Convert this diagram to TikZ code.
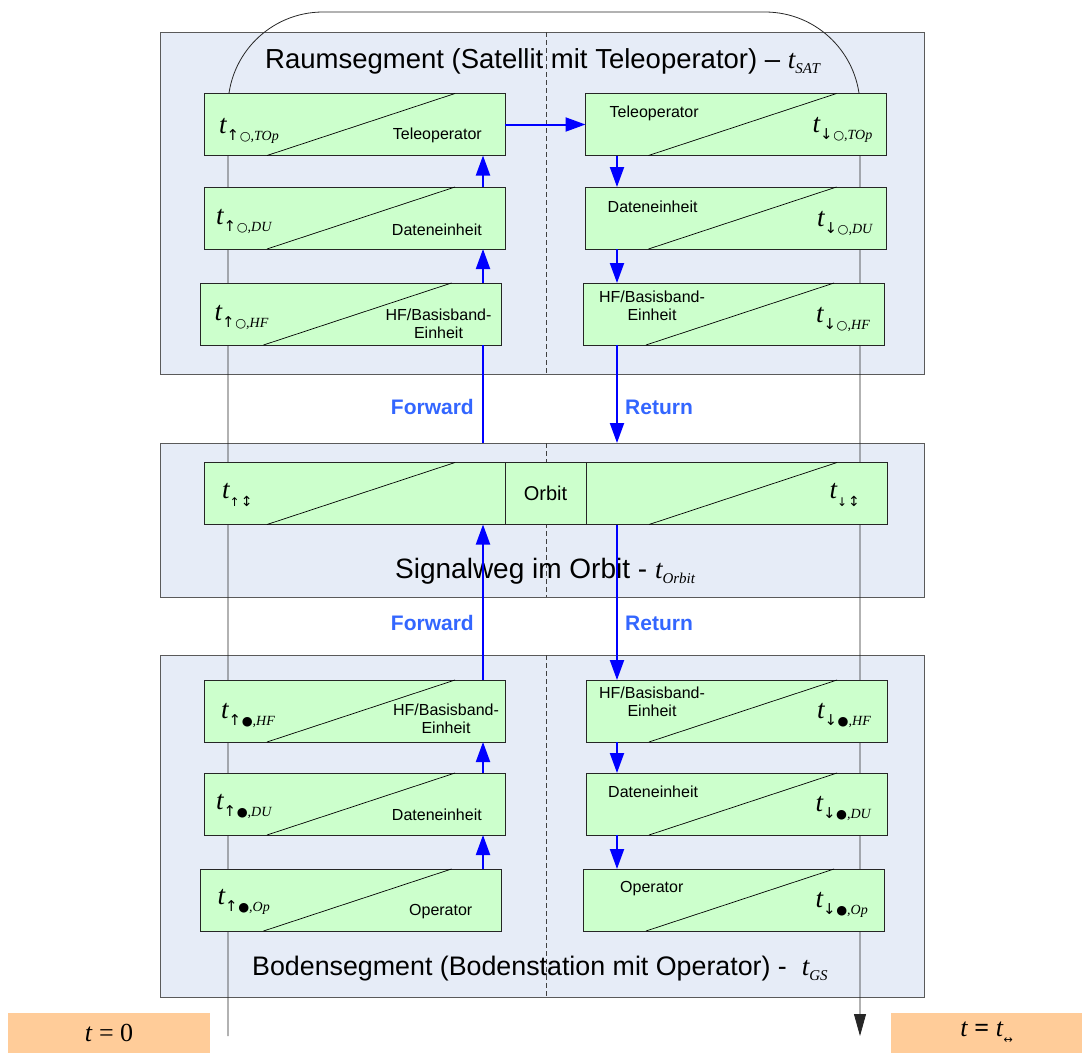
\documentclass[tikz,border=0pt]{standalone}
\usepackage{fontspec}
\setmainfont{Liberation Sans}
\newfontfamily\tms{Liberation Serif}
\newfontfamily\djv{DejaVu Sans}
\usetikzlibrary{arrows.meta}

\definecolor{panelfill}{HTML}{E6ECF7}
\definecolor{panelline}{HTML}{5A5A5A}
\definecolor{unitfill}{HTML}{CCFFCC}
\definecolor{clockfill}{HTML}{FFCC99}
\definecolor{flowblue}{HTML}{0000FF}
\definecolor{labelblue}{HTML}{3366FF}

\newcommand{\setfs}[1]{\fontsize{#1}{#1}\selectfont}
% delay symbol: italic t with direction arrow, location mark and unit index
\newcommand{\tdel}[3]{{\tms\itshape\setfs{27}t}\raisebox{-7pt}{\djv\setfs{15}#1\kern0.5pt\setfs{12.5}#2\tms\itshape\setfs{14}#3}}
\newcommand{\tdelo}[2]{{\tms\itshape\setfs{27}t}\raisebox{-8pt}{\djv\setfs{12}#1\kern1pt\setfs{14}#2}}
\newcommand{\tseg}[1]{{\tms\itshape\setfs{27}t}\raisebox{-5pt}{\tms\itshape\setfs{15}#1}}
\newcommand{\twoline}[2]{\begin{tabular}[t]{@{}c@{}}#1\\#2\end{tabular}}

\begin{document}
\begin{tikzpicture}[x=1pt,y=-1pt,
  panel/.style={draw=panelline, fill=panelfill, line width=0.8pt, inner sep=0, outer sep=0,
                minimum width=764},
  unit/.style={draw=black!85, fill=unitfill, line width=0.8pt, inner sep=0, outer sep=0,
               minimum width=301, minimum height=62},
  slash/.style={draw=black, line width=0.7pt},
  flow/.style={draw=flowblue, line width=2pt},
  flowarr/.style={flow, -{Triangle[length=20pt,width=14pt]}},
  timeline/.style={draw=black!85, line width=0.8pt},
  divider/.style={draw=black!75, line width=0.6pt, dash pattern=on 5pt off 3pt},
  lab/.style={inner sep=0, font=\fontsize{16}{18}\selectfont},
  tlab/.style={inner sep=0},
  segtitle/.style={inner sep=0},
  dirlabel/.style={inner sep=0, font=\bfseries\setfs{21}, text=labelblue},
  clock/.style={fill=clockfill, inner sep=0, outer sep=0, minimum height=40, font=\tms\setfs{26}}
]
\useasboundingbox (0,0) rectangle (1082,1053);

% segment panels
\node[panel, minimum height=342] (space)  at (542,203) {};
\node[panel, minimum height=154] (orbit)  at (542,520) {};
\node[panel, minimum height=342] (ground) at (542,826) {};

% centre dividers
\coordinate (mid) at (546,0);
\foreach \p in {space,orbit,ground}
  \draw[divider] (\p.north -| mid) -- (\p.south -| mid);

% time axis from t=0 round the satellite to t=t_<->
\coordinate (tstart) at (228,1036);
\coordinate (tend) at (860,1036);
\draw[timeline, rounded corners=95, -{Triangle[length=22pt,width=12pt]}]
  (tstart) -- (228,12) -- (860,12) -- (tend);

% segment titles
\node[segtitle, anchor=base west, font=\setfs{27.5}] (tsat) at (265,68)
  {Raumsegment (Satellit mit Teleoperator) -- \tseg{SAT}};
\node[segtitle, anchor=base west, font=\setfs{28}] (torb) at (395,578)
  {Signalweg im Orbit - \tseg{Orbit}};
\node[segtitle, anchor=base west, font=\setfs{26.8}] (tgs) at (252,975)
  {Bodensegment (Bodenstation mit Operator) -\ \ \tseg{GS}};

% processing units
\foreach \n/\cx/\cy in {sTL/354.5/124.5, sDL/354.5/218, sHL/351/314,
                         sTR/736/124.5, sDR/736/218, sHR/733.5/314,
                         oL/354.5/493.5, oR/736.5/493.5,
                         gHL/354.5/711, gDL/354.5/804, gOL/351/900,
                         gHR/736.5/711, gDR/736.5/804, gOR/733.5/900}
{
  \node[unit] (\n) at (\cx,\cy) {};
  \draw[slash] ([xshift=63]\n.south west) -- ([xshift=251]\n.north west);
}
\node[unit, minimum width=81, font=\setfs{20}] (oC) at (545.5,493.5) {Orbit};

% delay symbols, forward side
\node[tlab, anchor=base west] at ([shift={(15,40)}]sTL.north west) {\tdel{↑}{○}{,TOp}};
\node[tlab, anchor=base west] at ([shift={(12,37)}]sDL.north west) {\tdel{↑}{○}{,DU}};
\node[tlab, anchor=base west] at ([shift={(14,37)}]sHL.north west) {\tdel{↑}{○}{,HF}};
\node[tlab, anchor=base west] at ([shift={(18,36)}]oL.north west) {\tdelo{↑}{↕}};
\node[tlab, anchor=base west] at ([shift={(17,38)}]gHL.north west) {\tdel{↑}{●}{,HF}};
\node[tlab, anchor=base west] at ([shift={(12,36)}]gDL.north west) {\tdel{↑}{●}{,DU}};
\node[tlab, anchor=base west] at ([shift={(17,35)}]gOL.north west) {\tdel{↑}{●}{,Op}};

% delay symbols, return side
\node[tlab, anchor=base east] at ([shift={(-14,39)}]sTR.north east) {\tdel{↓}{○}{,TOp}};
\node[tlab, anchor=base east] at ([shift={(-14,39)}]sDR.north east) {\tdel{↓}{○}{,DU}};
\node[tlab, anchor=base east] at ([shift={(-14,39)}]sHR.north east) {\tdel{↓}{○}{,HF}};
\node[tlab, anchor=base east] at ([shift={(-27,36)}]oR.north east) {\tdelo{↓}{↕}};
\node[tlab, anchor=base east] at ([shift={(-16,38)}]gHR.north east) {\tdel{↓}{●}{,HF}};
\node[tlab, anchor=base east] at ([shift={(-16,38)}]gDR.north east) {\tdel{↓}{●}{,DU}};
\node[tlab, anchor=base east] at ([shift={(-16,38)}]gOR.north east) {\tdel{↓}{●}{,Op}};

% unit names
\node[lab, anchor=base east] at ([shift={(-23,46)}]sTL.north east) {Teleoperator};
\node[lab, anchor=base east] at ([shift={(-23,48)}]sDL.north east) {Dateneinheit};
\node[lab, anchor=base] at ([shift={(-63,37)}]sHL.north east) {\twoline{HF/Basisband-}{Einheit}};
\node[lab, anchor=base west] at ([shift={(24,24)}]sTR.north west) {Teleoperator};
\node[lab, anchor=base west] at ([shift={(22,25)}]sDR.north west) {Dateneinheit};
\node[lab, anchor=base] at ([shift={(69,19)}]sHR.north west) {\twoline{HF/Basisband-}{Einheit}};
\node[lab, anchor=base] at ([shift={(-59,35)}]gHL.north east) {\twoline{HF/Basisband-}{Einheit}};
\node[lab, anchor=base east] at ([shift={(-23,47)}]gDL.north east) {Dateneinheit};
\node[lab, anchor=base east] at ([shift={(-29,46)}]gOL.north east) {Operator};
\node[lab, anchor=base] at ([shift={(66,18)}]gHR.north west) {\twoline{HF/Basisband-}{Einheit}};
\node[lab, anchor=base west] at ([shift={(22,24)}]gDR.north west) {Dateneinheit};
\node[lab, anchor=base west] at ([shift={(37,23)}]gOR.north west) {Operator};

% signal flow
\coordinate (fwd) at (483,0);
\coordinate (ret) at (617,0);
\draw[flowarr] (gOL.north -| fwd) -- (gDL.south -| fwd);
\draw[flowarr] (gDL.north -| fwd) -- (gHL.south -| fwd);
\draw[flowarr] (gHL.north -| fwd) -- (oL.south -| fwd);
\draw[flow]    (orbit.north -| fwd) -- (sHL.south -| fwd);
\draw[flowarr] (sHL.north -| fwd) -- (sDL.south -| fwd);
\draw[flowarr] (sDL.north -| fwd) -- (sTL.south -| fwd);
\draw[flowarr] (sTL.east) -- (sTR.west);
\draw[flowarr] (sTR.south -| ret) -- (sDR.north -| ret);
\draw[flowarr] (sDR.south -| ret) -- (sHR.north -| ret);
\draw[flowarr] (sHR.south -| ret) -- (orbit.north -| ret);
\draw[flowarr] (oR.south -| ret) -- (gHR.north -| ret);
\draw[flowarr] (gHR.south -| ret) -- (gDR.north -| ret);
\draw[flowarr] (gDR.south -| ret) -- (gOR.north -| ret);

% direction labels
\node[dirlabel, anchor=base east] (fw1) at (474,414) {Forward};
\node[dirlabel, anchor=base west] (rt1) at (625,414) {Return};
\node[dirlabel, anchor=base east] (fw2) at (474,630) {Forward};
\node[dirlabel, anchor=base west] (rt2) at (625,630) {Return};

% start and end of the round trip
\node[clock, minimum width=202] (t0) at (109,1033) {\textit{t} = 0};
\node[clock, minimum width=191] (t1) at (986.5,1033)
  {\textit{t} \textbf{=} \textit{t}\raisebox{-7pt}{\djv\setfs{11}↔}};
\end{tikzpicture}
\end{document}
